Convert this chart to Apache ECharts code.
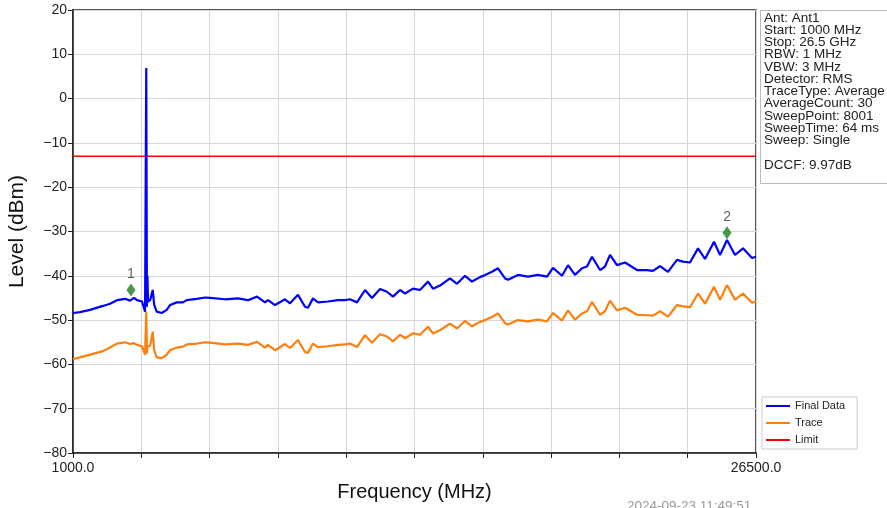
<!DOCTYPE html>
<html><head><meta charset="utf-8">
<script src="https://cdn.jsdelivr.net/npm/echarts@6/dist/echarts.min.js"></script>
<style>html,body{margin:0;padding:0;background:#fff}#c{width:887px;height:508px}</style>
</head><body><div id="c"></div>
<script>
const freqMHz = [1000,1261,1635,2120,2381,2643,2941,3128,3277,3389,3576,3690,3735,3760,3780,3800,3880,3976,4030,4125,4312,4498,4622,4872,5107,5245,5618,5928,6115,6675,7160,7534,7870,8168,8280,8542,8915,9102,9400,9662,9774,9960,10147,10520,10894,11155,11342,11603,11902,12163,12462,12723,12947,13209,13395,13694,13955,14254,14441,14702,15075,15337,15636,15897,16195,16382,16643,16867,17129,17241,17614,17988,18361,18697,18921,19257,19481,19742,20004,20190,20377,20676,20862,21049,21310,21609,22057,22430,22654,22916,23214,23550,23774,24036,24335,24596,24932,25156,25418,25716,26015,26351,26500];
const finalData = [-48.4,-48.2,-47.7,-46.8,-46.3,-45.5,-45.2,-45.6,-45.0,-45.5,-45.8,-48.1,6.9,-47.0,-40.0,-45.8,-45.5,-43.2,-46.5,-48.1,-48.4,-47.7,-46.6,-46.0,-46.0,-45.5,-45.2,-44.9,-45.0,-45.3,-45.1,-45.5,-44.7,-46.0,-45.5,-46.6,-45.3,-46.2,-44.3,-47.0,-47.2,-45.1,-46.0,-45.8,-45.5,-45.5,-45.3,-46.0,-43.2,-45.0,-43.0,-43.6,-44.7,-43.2,-44.0,-42.9,-43.2,-41.3,-42.9,-42.2,-40.6,-41.8,-40.0,-41.3,-40.3,-39.8,-39.1,-38.3,-40.6,-40.9,-39.8,-40.2,-39.8,-40.2,-38.2,-40.0,-37.6,-39.8,-38.3,-37.9,-35.7,-38.7,-37.9,-35.3,-37.6,-37.0,-38.7,-38.7,-38.9,-37.8,-39.1,-36.4,-36.8,-37.0,-33.8,-36.2,-32.3,-35.3,-31.9,-35.3,-33.8,-36.0,-35.7];
const trace = [-58.8,-58.4,-57.8,-57.0,-56.2,-55.3,-55.0,-55.4,-55.2,-55.6,-55.9,-57.8,-48.1,-57.5,-56.0,-56.0,-55.8,-52.6,-56.8,-58.4,-58.6,-57.8,-56.8,-56.2,-56.0,-55.5,-55.3,-55.0,-55.1,-55.5,-55.3,-55.6,-54.9,-56.2,-55.6,-56.8,-55.4,-56.3,-54.5,-57.2,-57.4,-55.3,-56.1,-55.9,-55.6,-55.5,-55.3,-56.1,-53.4,-55.1,-53.2,-53.7,-54.8,-53.3,-54.1,-53.0,-53.3,-51.5,-53.0,-52.3,-50.8,-51.9,-50.2,-51.4,-50.4,-50.0,-49.3,-48.5,-50.7,-51.0,-50.0,-50.3,-49.9,-50.3,-48.4,-50.1,-47.8,-49.9,-48.5,-48.0,-45.9,-48.8,-48.0,-45.6,-47.8,-47.2,-48.8,-48.9,-49.0,-48.0,-49.2,-46.6,-46.9,-47.1,-44.0,-46.3,-42.5,-45.4,-42.1,-45.4,-44.0,-46.1,-45.8];
const limitLevel = -13;
const freqStart = 1000, freqStop = 26500, gridStep = 2550;
const levelMin = -80, levelMax = 20, levelStep = 10;
const markerFreq = [3166, 25418];
const markerLevel = [-43.2, -30.3];
const markerNames = ['1', '2'];
const infoLines = ['Ant: Ant1','Start: 1000 MHz','Stop: 26.5 GHz','RBW: 1 MHz','VBW: 3 MHz','Detector: RMS','TraceType: Average','AverageCount: 30','SweepPoint: 8001','SweepTime: 64 ms','Sweep: Single','','DCCF: 9.97dB'];
const timestamp = '2024-09-23 11:49:51';

const FONT = '"Liberation Sans", Arial, sans-serif';
const chart = echarts.init(document.getElementById('c'), null, {renderer: 'canvas'});
const option = {
  animation: false,
  backgroundColor: '#fff',
  textStyle: {fontFamily: FONT},
  grid: {left: 73, right: 131, top: 10, bottom: 55, show: true, borderColor: '#222', borderWidth: 1.5, backgroundColor: '#fff', outerBoundsMode: 'none'},
  legend: {
    data: ['Final Data', 'Trace', 'Limit'],
    orient: 'vertical', left: 762, top: 397,
    padding: [3, 12, 3, 4], itemGap: 5,
    itemWidth: 24, itemHeight: 2, icon: 'rect',
    backgroundColor: '#fff', borderColor: '#ccc', borderWidth: 1,
    textStyle: {fontSize: 11, color: '#222', fontFamily: FONT, lineHeight: 12}
  },
  xAxis: [{
    type: 'value', min: freqStart, max: freqStop, interval: freqStop - freqStart,
    position: 'bottom',
    name: 'Frequency (MHz)', nameLocation: 'middle', nameGap: 29,
    nameTextStyle: {fontSize: 20, color: '#111', fontFamily: FONT},
    axisLine: {show: true, onZero: false, lineStyle: {color: '#222', width: 1.5}},
    axisTick: {show: false}, splitLine: {show: false},
    axisLabel: {show: true, showMinLabel: true, showMaxLabel: true, fontSize: 14, color: '#222', margin: 8,
      formatter: v => (v === freqStart || v === freqStop) ? v.toFixed(1) : ''}
  }, {
    type: 'value', min: 0, max: freqStop - freqStart, interval: gridStep, position: 'bottom',
    axisLine: {show: false, onZero: false}, axisLabel: {show: false},
    axisTick: {show: true, inside: false, length: 5, lineStyle: {color: '#222', width: 1}},
    splitLine: {show: true, lineStyle: {color: '#d6d6d6', width: 1}}
  }],
  yAxis: {
    type: 'value', min: levelMin, max: levelMax, interval: levelStep,
    name: 'Level (dBm)', nameLocation: 'middle', nameGap: 45,
    nameTextStyle: {fontSize: 21, color: '#111', fontFamily: FONT},
    axisLine: {show: true, onZero: false, lineStyle: {color: '#222', width: 1.5}},
    axisTick: {show: true, length: 5, lineStyle: {color: '#222'}},
    axisLabel: {fontSize: 14, color: '#222', margin: 6, formatter: v => String(v).replace('-', '\u2212')},
    splitLine: {show: true, lineStyle: {color: '#d6d6d6', width: 1}}
  },
  series: [
    {name: 'Trace', type: 'line', showSymbol: false, z: 3,
     data: freqMHz.map((f, i) => [f, trace[i]]), lineStyle: {color: '#ff7f0e', width: 2.2}, itemStyle: {color: '#ff7f0e'}},
    {name: 'Final Data', type: 'line', showSymbol: false, z: 4,
     data: freqMHz.map((f, i) => [f, finalData[i]]), lineStyle: {color: '#0000ff', width: 2.2}, itemStyle: {color: '#0000ff'}},
    {name: 'Limit', type: 'line', showSymbol: false, z: 2,
     data: [[freqStart, limitLevel], [freqStop, limitLevel]], lineStyle: {color: '#ff0000', width: 1.5}, itemStyle: {color: '#ff0000'}},
    {name: 'Markers', type: 'scatter', z: 6, symbol: 'diamond', symbolSize: [9, 13],
     itemStyle: {color: '#1a7f1a'},
     data: markerFreq.map((f, i) => ({value: [f, markerLevel[i]], name: markerNames[i]})),
     label: {show: true, position: 'top', distance: 2, formatter: p => p.name, fontSize: 14, color: '#333', fontFamily: FONT}}
  ],
  graphic: [
    {type: 'rect', left: 760, top: 10, shape: {width: 140, height: 173}, style: {fill: '#fff', stroke: '#bbb', lineWidth: 1}, z: 10},
    {type: 'text', left: 764, top: 11, z: 11, style: {text: infoLines.join('\n'), font: '13.5px ' + FONT, lineHeight: 12.25, fill: '#222'}},
    {type: 'text', left: 627, top: 499, z: 11, style: {text: timestamp, font: '13.5px ' + FONT, fill: '#999'}}
  ]
};
chart.setOption(option);
</script></body></html>
